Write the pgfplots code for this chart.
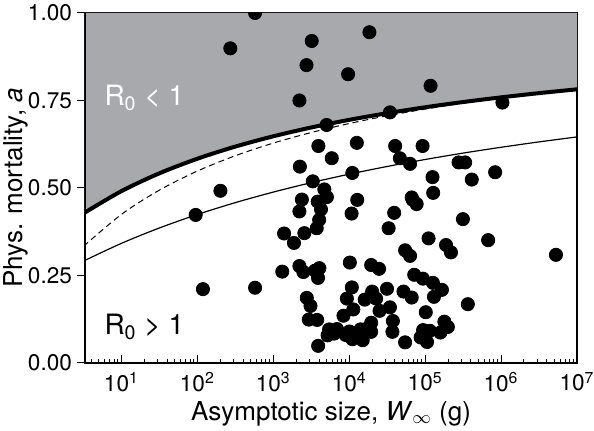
\documentclass[border=0pt]{standalone}
\usepackage{fontspec}
\setmainfont{TeX Gyre Heros}
\usepackage{pgfplots}
\pgfplotsset{compat=1.18}
\usepackage{pgfplotstable}
\usepgfplotslibrary{fillbetween}
\definecolor{shade}{RGB}{167,169,172}

\pgfplotstableread{
W thick dashed thin
3.162 0.4275 0.3333 0.2912
10 0.4911 0.4247 0.3419
31.62 0.5420 0.4940 0.3858
100 0.5836 0.5484 0.4243
316.2 0.6183 0.5922 0.4582
1000 0.6477 0.6283 0.4883
3162 0.6729 0.6585 0.5153
10000 0.6947 0.6842 0.5395
31620 0.7137 0.7063 0.5615
100000 0.7306 0.7255 0.5814
316200 0.7456 0.7423 0.5997
1000000 0.7589 0.7572 0.6163
3162000 0.7710 0.7700 0.6317
10000000 0.7819 0.7812 0.6459
}\curves

\pgfplotstableread{
W a
575 1.0
271.6 0.899
3206 0.920
2735 0.851
2207 0.750
5035 0.680
18450 0.945
9660 0.825
117800 0.792
34360 0.716
1042000 0.744
3926 0.620
12590 0.629
5888 0.585
40270 0.620
92500 0.620
46450 0.585
63240 0.569
275400 0.573
336500 0.573
2239 0.561
10990 0.543
3311 0.519
4699 0.496
5082 0.474
125000 0.531
411200 0.524
835600 0.545
127600 0.486
66530 0.473
12760 0.466
2377 0.467
3846 0.461
4246 0.439
2207 0.433
4018 0.409
3733 0.385
2564 0.371
1387 0.370
1871 0.343
10740 0.427
39090 0.429
33040 0.385
68550 0.466
77270 0.454
314100 0.411
110900 0.356
676100 0.351
188400 0.337
218800 0.316
54450 0.322
63240 0.306
5284000 0.309
201 0.492
95.0 0.423
118.3 0.211
575 0.215
1312 0.261
10190 0.287
2207 0.277
2488 0.260
3548 0.264
4046 0.271
3880 0.243
19450 0.280
24720 0.269
71780 0.252
93300 0.241
126500 0.229
166300 0.209
10820 0.216
31410 0.212
20040 0.204
22590 0.184
15990 0.181
25060 0.149
51860 0.204
66530 0.187
130600 0.189
9311 0.184
2761 0.186
3090 0.163
34360 0.159
11320 0.153
364800 0.168
101900 0.145
8395 0.135
2933 0.124
3785 0.123
37600 0.120
19450 0.115
16720 0.097
179100 0.118
199100 0.103
158800 0.087
5430 0.096
5188 0.079
6902 0.097
6340 0.084
10050 0.090
8990 0.080
11560 0.073
14100 0.096
19450 0.089
37070 0.089
93970 0.094
115300 0.092
87100 0.073
105900 0.060
10990 0.068
15060 0.065
54450 0.059
3899 0.049
}\dots

\begin{document}
\begin{tikzpicture}
\begin{axis}[
  at={(0,0)}, anchor=south west,
  width=246pt, height=175pt, scale only axis,
  xmode=log, xmin=3.31, xmax=1e7, ymin=0, ymax=1,
  clip marker paths=true,
  xtick={10,100,1000,10000,100000,1000000,10000000},
  xticklabels={10\textsuperscript{1},10\textsuperscript{2},10\textsuperscript{3},10\textsuperscript{4},10\textsuperscript{5},10\textsuperscript{6},10\textsuperscript{7}},
  minor xtick={4,5,6,7,8,9,20,30,40,50,60,70,80,90,200,300,400,500,600,700,800,900,2000,3000,4000,5000,6000,7000,8000,9000,20000,30000,40000,50000,60000,70000,80000,90000,200000,300000,400000,500000,600000,700000,800000,900000,2000000,3000000,4000000,5000000,6000000,7000000,8000000,9000000},
  ytick={0,0.25,0.5,0.75,1},
  yticklabels={0.00,0.25,0.50,0.75,1.00},
  xtick pos=bottom, ytick pos=left,
  tick align=inside,
  major tick length=4pt, minor tick length=2pt,
  y tick style={xshift=-4pt},
  yticklabel style={xshift=-3pt},
  xticklabel style={yshift=-1pt},
  tick style={black, line width=0.5pt},
  axis line style={line width=0.6pt},
  ticklabel style={font=\fontsize{11.3}{13}\selectfont},
  label style={font=\fontsize{13}{15}\selectfont},
  xlabel={Asymptotic size, \textit{W}\textsubscript{$\infty$} (g)},
  ylabel={Phys. mortality, \textit{a}},
  xlabel style={yshift=2pt},
  every axis y label/.style={at={(axis description cs:0,0.5)}, xshift=-34.5pt, rotate=90, anchor=center, font=\fontsize{13}{15}\selectfont},
  /pgf/number format/assume math mode=true,
]
\addplot[draw=none, name path=A, smooth, forget plot] table[x=W, y=thick] {\curves};
\addplot[draw=none, name path=B, forget plot] coordinates {(3,1) (10000000,1)};
\addplot[fill=shade, draw=none] fill between[of=A and B];
\addplot[black, line width=0.6pt, smooth] table[x=W, y=thin] {\curves};
\addplot[black, line width=0.5pt, smooth, dash pattern=on 3pt off 2pt] table[x=W, y=dashed] {\curves};
\addplot[black, line width=2pt, smooth] table[x=W, y=thick] {\curves};
\addplot[only marks, mark=*, mark size=3.3pt, black, mark options={fill=black, draw=black}] table[x=W, y=a] {\dots};
\node[white, font=\fontsize{14}{16}\selectfont] at (axis cs:20,0.757) {R\textsubscript{0} < 1};
\node[black, font=\fontsize{14}{16}\selectfont] at (axis cs:20,0.103) {R\textsubscript{0} > 1};
\draw[line width=1pt] (rel axis cs:0,1) -- (rel axis cs:0,0) -- (rel axis cs:1,0);
\end{axis}
\pgfresetboundingbox
\path[use as bounding box] (-42.5pt,-34pt) rectangle (254.5pt,181.5pt);
\end{tikzpicture}
\end{document}
